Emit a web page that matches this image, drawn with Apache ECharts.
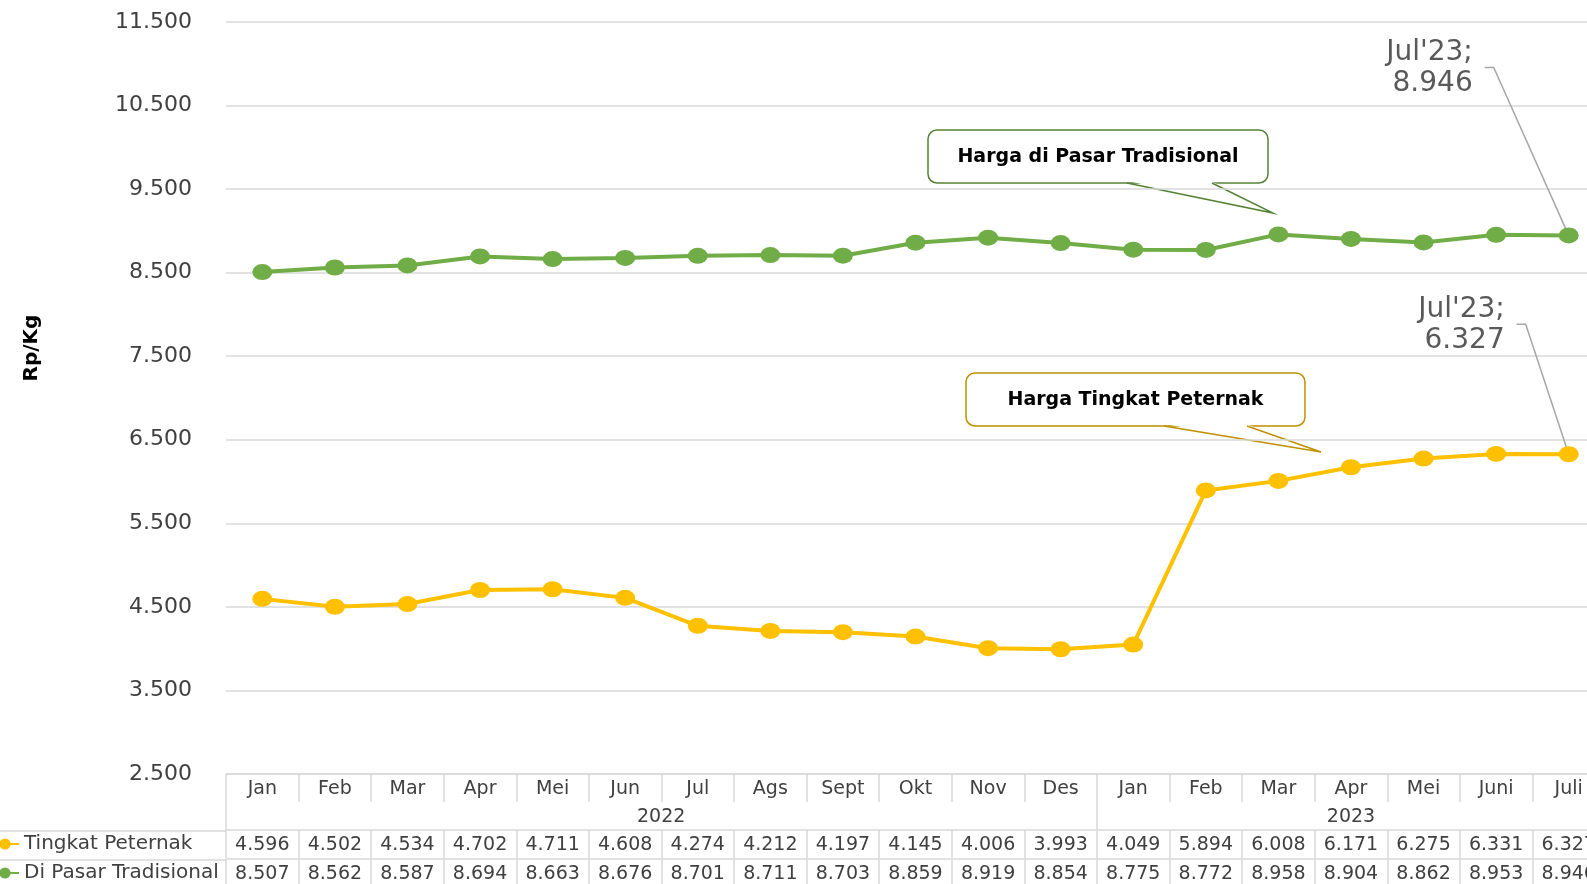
<!DOCTYPE html>
<html>
<head>
    <meta charset="utf-8">
    <title>Harga Telur</title>
    <script src="https://cdn.jsdelivr.net/npm/echarts@6/dist/echarts.min.js"></script>
    <style>
        html, body { margin: 0; padding: 0; background: #fff; overflow: hidden; }
    </style>
</head>
<body>
<!-- chart is a bit wider than the window: the last column is cut off like in the source -->
<div id="main" style="width: 1605px;height:884px;"></div>
<script>
// data
var months = ['Jan', 'Feb', 'Mar', 'Apr', 'Mei', 'Jun', 'Jul', 'Ags', 'Sept', 'Okt', 'Nov', 'Des',
    'Jan', 'Feb', 'Mar', 'Apr', 'Mei', 'Juni', 'Juli'];
var years = ['2022', '2023'];
var peternak = [4596, 4502, 4534, 4702, 4711, 4608, 4274, 4212, 4197, 4145, 4006, 3993,
    4049, 5894, 6008, 6171, 6275, 6331, 6327];
var pasar = [8507, 8562, 8587, 8694, 8663, 8676, 8701, 8711, 8703, 8859, 8919, 8854,
    8775, 8772, 8958, 8904, 8862, 8953, 8946];
var seriesNames = ['Tingkat Peternak', 'Di Pasar Tradisional'];
var yMin = 2500, yMax = 11500, yStep = 1000;
var lastLabel = "Jul'23;";

var FONT = 'DejaVu Sans';
var GRID = '#D9D9D9';
var TXT = '#404040';

function fmt(n) {
    return String(n).replace(/\B(?=(\d{3})+(?!\d))/g, '.');
}

// one row of the data table under the chart
function tableAxis(offset, formatter, tickShow, lineShow, margin) {
    return {
        type: 'category',
        data: months,
        position: 'bottom',
        offset: offset,
        gridIndex: 0,
        axisLine: { show: lineShow, lineStyle: { color: GRID, width: 1.5 } },
        axisTick: { show: true, interval: tickShow, length: 28, lineStyle: { color: GRID, width: 1.5 } },
        axisLabel: {
            interval: 0, margin: margin, color: TXT, fontFamily: FONT, fontSize: 19,
            formatter: formatter,
            rich: { a: { padding: [0, 0, 0, 72], color: TXT, fontFamily: FONT, fontSize: 19 } }
        },
        splitLine: { show: false }
    };
}

function lineData(arr) {
    return arr.map(function (v, i) {
        if (i !== arr.length - 1) return v;
        return { value: v, label: { show: true } };
    });
}

function callout(x1, y1, x2, y2, bx1, bx2, tx, ty, color, text) {
    return {
        type: 'group',
        children: [
            { type: 'rect', shape: { x: x1, y: y1, width: x2 - x1, height: y2 - y1, r: 9 },
              style: { fill: '#fff', stroke: color, lineWidth: 1.5 } },
            { type: 'polygon', shape: { points: [[bx1 + 1, y2 - 2], [bx2 - 1, y2 - 2], [tx, ty]] },
              style: { fill: '#fff' } },
            { type: 'polyline', shape: { points: [[bx1, y2], [tx, ty], [bx2, y2]] },
              style: { stroke: color, lineWidth: 1.5, fill: null } },
            { type: 'text', style: { x: (x1 + x2) / 2, y: (y1 + y2) / 2 + 1, text: text,
              align: 'center', verticalAlign: 'middle', fill: '#000', font: 'bold 19px "DejaVu Sans"' } }
        ]
    };
}

// label offsets (right edge / middle of the label, from the point centre)
var endOffsets = [[-64, -129], [-96, -167]];
var SYM = [20, 16];

function labelFor(si) {
    return {
        show: false, color: '#595959', fontSize: 28, lineHeight: 31, fontFamily: FONT,
        // position is taken from the symbol's top-left corner
        position: [endOffsets[si][0] + SYM[0] / 2, endOffsets[si][1] + SYM[1] / 2],
        align: 'right', verticalAlign: 'middle',
        formatter: function (p) { return lastLabel + '\n' + fmt(p.value); }
    };
}

option = {
    animation: false,
    backgroundColor: '#fff',
    textStyle: { fontFamily: FONT },
    grid: { left: 226, right: 0, top: 22, bottom: 109, containLabel: false },
    legend: {
        data: seriesNames,
        orient: 'vertical',
        left: -10,
        top: 834,
        height: 60,
        padding: 0,
        itemWidth: 28,
        itemHeight: 14,
        itemGap: 9,
        textStyle: { color: TXT, fontFamily: FONT, fontSize: 20 },
        selectedMode: false
    },
    xAxis: [
        tableAxis(0, null, 0, true, 6),
        tableAxis(28, function (v, i) {
            if (i === 5) return '{a|' + years[0] + '}';
            if (i === 15) return years[1];
            return '';
        }, function (i) { return i === 0 || i === 12; }, false, 6),
        tableAxis(56, function (v, i) { return fmt(peternak[i]); }, 0, true, 6),
        tableAxis(85, function (v, i) { return fmt(pasar[i]); }, 0, true, 6)
    ],
    yAxis: {
        type: 'value',
        min: yMin,
        max: yMax,
        interval: yStep,
        name: 'Rp/Kg',
        nameLocation: 'middle',
        nameRotate: 90,
        nameGap: 184,
        nameTextStyle: { color: '#000', fontWeight: 'bold', fontSize: 20, fontFamily: FONT,
            padding: [0, 0, 0, 100] },
        axisLine: { show: false },
        axisTick: { show: false },
        axisLabel: { margin: 34, color: TXT, fontFamily: FONT, fontSize: 22, formatter: fmt },
        splitLine: { lineStyle: { color: GRID, width: 1.5 } }
    },
    series: [
        {
            name: seriesNames[0],
            type: 'line',
            data: lineData(peternak),
            color: '#FFC000',
            lineStyle: { width: 4, color: '#FFC000' },
            symbol: 'circle',
            symbolSize: SYM,
            itemStyle: { color: '#FFC000' },
            label: labelFor(0)
        },
        {
            name: seriesNames[1],
            type: 'line',
            data: lineData(pasar),
            color: '#70AD47',
            lineStyle: { width: 4, color: '#70AD47' },
            symbol: 'circle',
            symbolSize: SYM,
            itemStyle: { color: '#70AD47' },
            label: labelFor(1)
        }
    ],
    graphic: [
        { type: 'line', shape: { x1: 0, y1: 831, x2: 226, y2: 831 }, style: { stroke: GRID, lineWidth: 1.5 } },
        { type: 'line', shape: { x1: 0, y1: 860, x2: 226, y2: 860 }, style: { stroke: GRID, lineWidth: 1.5 } },
        callout(928, 130, 1268, 183, 1127, 1212, 1273, 213, '#548235', 'Harga di Pasar Tradisional'),
        callout(966, 373, 1305, 426, 1164, 1247, 1321, 452, '#BF9000', 'Harga Tingkat Peternak')
    ]
};

var myChart = echarts.init(document.getElementById('main'));
myChart.setOption(option);

// leader lines from the end labels to the last points
var last = months.length - 1;
var leaders = [peternak, pasar].map(function (arr, si) {
    var p = myChart.convertToPixel({ seriesIndex: si }, [last, arr[last]]);
    var lx = p[0] + endOffsets[si][0], ly = p[1] + endOffsets[si][1];
    return {
        type: 'polyline',
        shape: { points: [[lx + 12, ly - 1], [lx + 21, ly - 1], [p[0], p[1]]] },
        style: { stroke: '#A6A6A6', lineWidth: 1.5, fill: null },
        z: 1
    };
});
myChart.setOption({ graphic: option.graphic.concat(leaders) });
</script>
</body>
</html>
